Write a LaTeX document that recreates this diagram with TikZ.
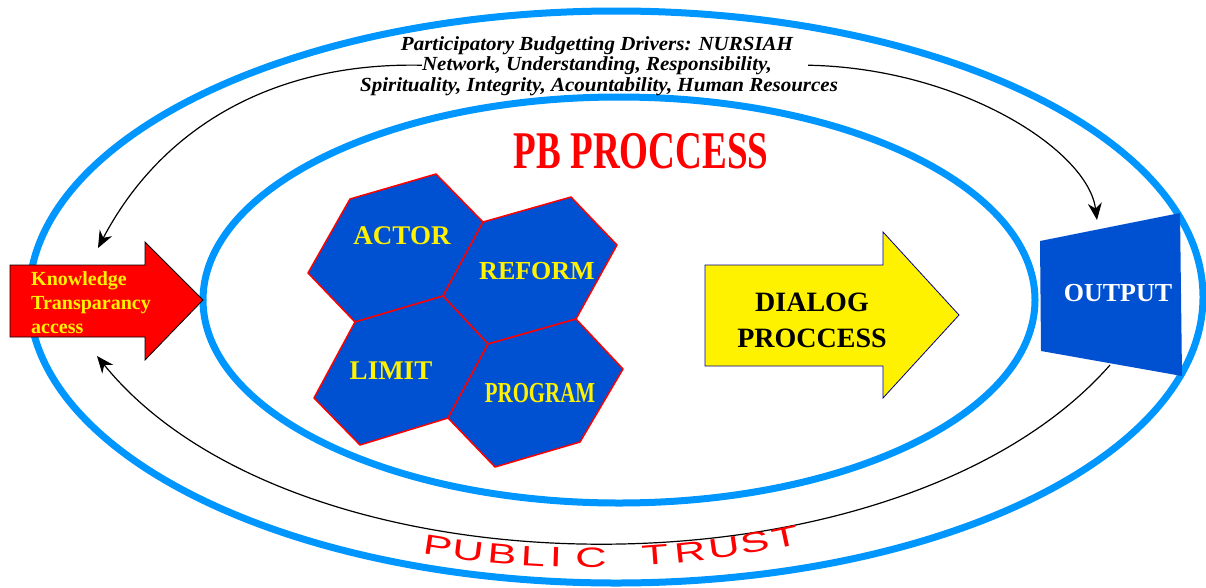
\documentclass[tikz,border=0pt]{standalone}
\usepackage{fontspec}
\setmainfont{Liberation Serif}
\setsansfont{Liberation Sans}
\usepackage{graphicx}
\usetikzlibrary{arrows.meta}
\definecolor{ringblue}{RGB}{0,150,255}
\definecolor{cellblue}{RGB}{0,80,210}
\definecolor{dialogedge}{RGB}{0,0,140}
\tikzset{ring/.style={draw=ringblue, line width=7pt},
  cell/.style={fill=cellblue, draw=red, line width=1.5pt, line join=round},
  celltext/.style={text=yellow, inner sep=0pt, font=\fontsize{27}{30}\selectfont\bfseries},
  drivers/.style={inner sep=0pt, anchor=base, font=\fontsize{20}{24}\selectfont\bfseries\itshape},
  link/.style={draw=black, line width=1.2pt, -{Stealth[length=17pt,width=14pt]}},
  trust/.style={text=red, inner sep=0pt, font=\sffamily\fontsize{28}{30}\selectfont}}

\begin{document}
\begin{tikzpicture}[x=1pt, y=1pt]
  \useasboundingbox (0,0) rectangle (1206,-587);
  % rings
  \draw[ring] (616,-297) ellipse [x radius=587, y radius=286];
  \draw[ring] (619,-300) ellipse [x radius=416, y radius=203];

  % drivers text
  \node[drivers] (title) at (597,-50) {\scalebox{1.05}[1]{Participatory Budgetting Drivers: NURSIAH}};
  \node[drivers] (drv) at (597,-70) {\scalebox{1.05}[1]{Network, Understanding, Responsibility,}};
  \node[drivers] (names) at (599,-91) {\scalebox{1.05}[1]{Spirituality, Integrity, Acountability, Human Resources}};

  % knowledge arrow
  \filldraw[fill=red, draw=black, line width=0.8pt]
    (10,-265) -- (145,-265) -- (145,-242) -- (203,-300) -- (145,-360) -- (145,-337) -- (10,-337) -- cycle;
  \node[anchor=west, align=left, inner sep=0pt, text=yellow,
        font=\fontsize{20}{24}\selectfont\bfseries] (know) at (31,-303) {Knowledge\\Transparancy\\access};
  \coordinate (knowtop) at (98,-248);
  \coordinate (knowbot) at (97,-356);

  % output
  \fill[cellblue] (1040,-241) -- (1180,-213) -- (1182,-376) -- (1041,-351) -- cycle;
  \node[text=white, inner sep=0pt, font=\fontsize{26}{30}\selectfont\bfseries] (output) at (1118,-293) {OUTPUT};
  \coordinate (outtop) at (1097,-220);
  \coordinate (outbot) at (1110,-365);

  % loops
  \draw[link] (drv.west) .. controls (270,-62) and (160,-130) .. (knowtop);
  \draw[link] ([xshift=36]drv.east) .. controls (960,-68) and (1088,-150) .. (outtop);
  \draw[link] (outbot) .. controls (900,-604) and (298,-604) .. (knowbot);

  % process
  \node[text=red, inner sep=0pt, font=\fontsize{53}{60}\selectfont\bfseries] (pb) at (641,-151) {\scalebox{0.7}[1]{PB PROCCESS}};

  \coordinate (a1) at (350,-199);
  \coordinate (a2) at (436,-174);
  \coordinate (m1) at (483,-222);
  \coordinate (c)  at (443,-296);
  \coordinate (a5) at (355,-322);
  \coordinate (a6) at (308,-273);
  \coordinate (r2) at (571,-197);
  \coordinate (r3) at (617,-245);
  \coordinate (m2) at (576,-319);
  \coordinate (m3) at (488,-344);
  \coordinate (l5) at (448,-418);
  \coordinate (l6) at (360,-445);
  \coordinate (l7) at (314,-398);
  \coordinate (p3) at (623,-369);
  \coordinate (p4) at (580,-442);
  \coordinate (p5) at (495,-467);
  \path[cell] (a1) -- (a2) -- (m1) -- (c) -- (a5) -- (a6) -- cycle;
  \path[cell] (m1) -- (r2) -- (r3) -- (m2) -- (m3) -- (c) -- cycle;
  \path[cell] (a5) -- (c) -- (m3) -- (l5) -- (l6) -- (l7) -- cycle;
  \path[cell] (m3) -- (m2) -- (p3) -- (p4) -- (p5) -- (l5) -- cycle;
  \node[celltext] (actor) at (402,-236) {ACTOR};
  \node[celltext, font=\fontsize{26}{30}\selectfont\bfseries] (reform) at (537,-271) {REFORM};
  \node[celltext] (limit) at (391,-371) {LIMIT};
  \node[celltext, font=\fontsize{29}{30}\selectfont\bfseries] (program) at (540,-393) {\scalebox{0.72}[1]{PROGRAM}};

  % dialog arrow
  \filldraw[fill=yellow, draw=dialogedge, line width=0.8pt]
    (705,-265) -- (883,-265) -- (883,-232) -- (959,-315) -- (883,-398) -- (883,-366) -- (705,-366) -- cycle;
  \node[align=center, inner sep=0pt, font=\fontsize{28}{36}\selectfont\bfseries] (dialog) at (812,-320) {DIALOG\\PROCCESS};

  % public trust
  \foreach \ch/\px [count=\i] in {P/438,U/468,B/502,L/533,I/556,C/591,T/655,R/690,U/724,S/755,T/785}{
    \pgfmathsetmacro\ang{asin((\px-585)/960)}
    \path (585,402) ++(270+\ang:960) node[trust, rotate=\ang] (pt\i) {\scalebox{1.55}[1]{\ch}};
  }
\end{tikzpicture}
\end{document}
